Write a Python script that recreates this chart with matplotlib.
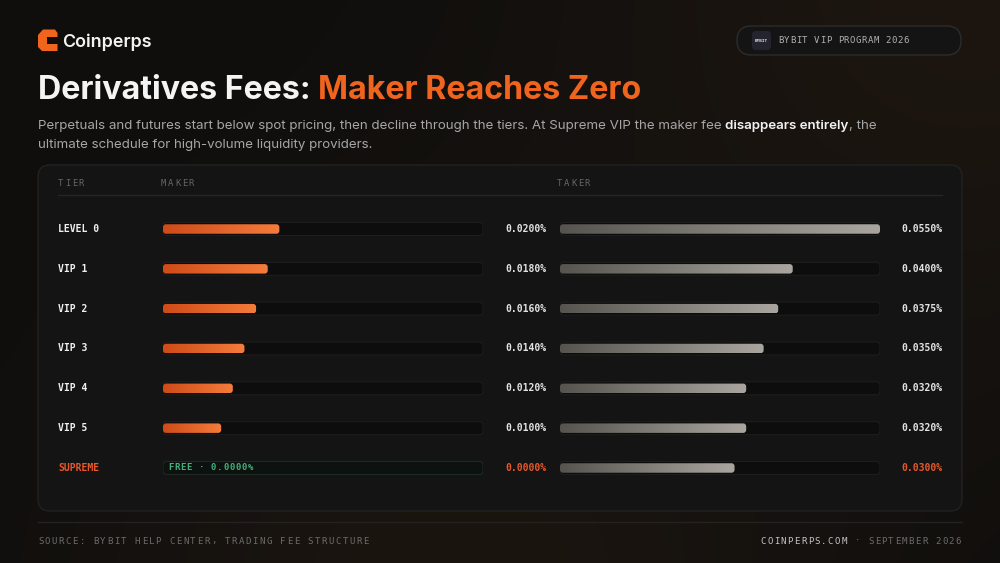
import numpy as np
import matplotlib.pyplot as plt
from matplotlib.patches import FancyBboxPatch, Polygon
from matplotlib.colors import LinearSegmentedColormap

# ---- data ----
tiers = ['LEVEL 0', 'VIP 1', 'VIP 2', 'VIP 3', 'VIP 4', 'VIP 5', 'SUPREME']
maker_fee = [0.0200, 0.0180, 0.0160, 0.0140, 0.0120, 0.0100, 0.0000]
taker_fee = [0.0550, 0.0400, 0.0375, 0.0350, 0.0320, 0.0320, 0.0300]
fee_max = 0.055
headers = ['TIER', 'MAKER', 'TAKER']

ORANGE = '#f0641e'
MONO = 'DejaVu Sans Mono'
SANS = ['Inter', 'DejaVu Sans']

W, H = 1000, 563
fig = plt.figure(figsize=(10, 5.63), dpi=100)
fig.patch.set_facecolor('#0f0e0d')

# background axes in pixel units
bg = fig.add_axes([0, 0, 1, 1])
yy, xx = np.mgrid[0:H, 0:W]
glow1 = np.exp(-((xx - 980) ** 2 + (yy + 40) ** 2) / (2 * 280 ** 2))
glow2 = np.exp(-((xx - 450) ** 2 + (yy - 620) ** 2) / (2 * 260 ** 2))
img = np.array([15, 14, 13])[None, None, :] + glow1[..., None] * np.array([14, 8, 3]) \
    + glow2[..., None] * np.array([12, 7, 3])
bg.imshow(img / 255.0, extent=(0, W, H, 0), zorder=0)
bg.set_xlim(0, W)
bg.set_ylim(H, 0)
bg.set_aspect('auto')
bg.axis('off')


def spaced(ax, x, y, s, size, colors, track, weight='normal', ha='left'):
    # monospace text with letter spacing
    adv = 0.602 * size * 100 / 72 + track
    total = adv * len(s) - track
    if ha == 'right':
        x -= total
    if isinstance(colors, str):
        colors = [colors] * len(s)
    for i, c in enumerate(s):
        ax.text(x + i * adv, y, c, fontsize=size, family=MONO, color=colors[i],
                weight=weight, ha='left', va='center', zorder=5)


renderer = fig.canvas.get_renderer()


def chain(x, y, parts, size):
    for s, col, wt in parts:
        t = bg.text(x, y, s, fontsize=size, family=SANS, color=col, weight=wt,
                    ha='left', va='baseline', zorder=5)
        x += t.get_window_extent(renderer).width


# logo
logo = Polygon([(38, 35), (43, 29.5), (55, 29.5), (57.5, 33), (57.5, 37), (47, 37),
                (47, 44), (57.5, 44), (57.5, 51), (42, 51), (38, 47)],
               closed=True, fc=ORANGE, ec='none', zorder=5)
bg.add_patch(logo)
bg.text(62, 47, 'Coinperps', fontsize=12.9, family=SANS, color='#f2f2f2',
        weight='semibold', va='baseline', zorder=5)

# badge
bg.add_patch(FancyBboxPatch((737, 26), 224, 29, boxstyle='round,pad=0,rounding_size=14.5',
                            fc='#141414', ec='#2c2c2c', lw=1, zorder=3))
bg.add_patch(FancyBboxPatch((752, 31), 19, 19, boxstyle='round,pad=0,rounding_size=4',
                            fc='#24242e', ec='none', zorder=4))
bg.text(761.5, 40.5, 'BYBIT', fontsize=3.2, family=MONO, color='#e0e0e0',
        weight='bold', ha='center', va='center', zorder=5)
spaced(bg, 778, 40.5, 'BYBIT VIP PROGRAM 2026', 6.5, '#b0b0b0', 0.55)

# title / subtitle
chain(38, 99, [('Derivatives Fees: ', '#f4f4f4', 'bold'),
               ('Maker Reaches Zero', ORANGE, 'bold')], 23.2)
chain(38, 129, [('Perpetuals and futures start below spot pricing, then decline through the tiers. '
                 'At Supreme VIP the maker fee ', '#a6a6a6', 'normal'),
                ('disappears entirely', '#f2f2f2', 'semibold'),
                (', the', '#a6a6a6', 'normal')], 9.6)
chain(38, 148, [('ultimate schedule for high-volume liquidity providers.', '#a6a6a6', 'normal')], 9.6)

# card
bg.add_patch(FancyBboxPatch((38, 165), 924, 346, boxstyle='round,pad=0,rounding_size=12',
                            fc='#141414', ec='#222222', lw=1, zorder=2))
spaced(bg, 58, 183.5, headers[0], 6.4, '#666666', 1.6)
spaced(bg, 161, 183.5, headers[1], 6.4, '#666666', 1.6)
spaced(bg, 557, 183.5, headers[2], 6.4, '#666666', 1.6)
bg.plot([58, 942], [194.5, 194.5], color='#262626', lw=1, zorder=3)

# rows
row_y0, row_step = 229, 39.83
n = len(tiers)
top_px = row_y0 - row_step / 2
bot_px = row_y0 + (n - 0.5) * row_step
track_w = 320
xpp = fee_max / track_w
ypp = 1 / row_step
aspect = ypp / xpp

maker_cmap = LinearSegmentedColormap.from_list('mk', ['#cf4b18', '#f47c3c'])
taker_cmap = LinearSegmentedColormap.from_list('tk', ['#56544f', '#aaa69f'])
grad = np.linspace(0, 1, 256)[None, :]


def bar_axes(x0):
    ax = fig.add_axes([x0 / W, 1 - bot_px / H, track_w / W, (bot_px - top_px) / H])
    ax.axis('off')
    ax.patch.set_alpha(0)
    return ax


def rbox(ax, x, y, w, h_px, r_px, **kw):
    hh = h_px * ypp
    p = FancyBboxPatch((x, y - hh / 2), w, hh,
                       boxstyle=f'round,pad=0,rounding_size={r_px * xpp}',
                       mutation_aspect=aspect, **kw)
    ax.add_patch(p)
    return p


def draw_bars(ax, values, cmap, free_row=None):
    for i, v in enumerate(values):
        if i == free_row:
            rbox(ax, 0, i, fee_max, 13, 4, fc='#0d110f', ec='#1c2a22', lw=0.8, zorder=2)
            continue
        rbox(ax, 0, i, fee_max, 13, 4, fc='#0d0d0d', ec='#1d1d1d', lw=0.8, zorder=2)
        if v > 0:
            p = rbox(ax, 0, i, v, 9.5, 3, fc='none', ec='none', zorder=3)
            hh = 9.5 * ypp
            ax.imshow(grad, cmap=cmap, extent=(0, v, i + hh / 2, i - hh / 2),
                      aspect='auto', zorder=3, clip_path=p, interpolation='bilinear')
    ax.set_xlim(0, fee_max)
    ax.set_ylim(n - 0.5, -0.5)
    ax.set_aspect('auto')


free_idx = maker_fee.index(0.0)
ax_m = bar_axes(163)
draw_bars(ax_m, maker_fee, maker_cmap, free_row=free_idx)
ax_t = bar_axes(560)
draw_bars(ax_t, taker_fee, taker_cmap)

# overlay axes for text sitting on top of the bar tracks
fg = fig.add_axes([0, 0, 1, 1])
fg.set_xlim(0, W)
fg.set_ylim(H, 0)
fg.axis('off')
fg.patch.set_alpha(0)

for i, tier in enumerate(tiers):
    y = row_y0 + i * row_step
    special = tier == 'SUPREME'
    lab_col = '#e8572a' if special else '#f0f0f0'
    val_col = '#e8572a' if special else '#e2e2e2'
    fg.text(58, y, tier, fontsize=7, family=MONO, weight='bold', color=lab_col,
            va='center', zorder=5)
    fg.text(546, y, f'{maker_fee[i]:.4f}%', fontsize=7, family=MONO, weight='bold',
            color=val_col, ha='right', va='center', zorder=5)
    fg.text(942, y, f'{taker_fee[i]:.4f}%', fontsize=7, family=MONO, weight='bold',
            color=val_col, ha='right', va='center', zorder=5)
    if special:
        spaced(fg, 168, y, f'FREE · {maker_fee[i]:.4f}%', 6.5, '#45b07c', 0.7, weight='bold')

# footer
bg.plot([38, 962], [522, 522], color='#222222', lw=1, zorder=3)
spaced(bg, 38, 541, 'SOURCE: BYBIT HELP CENTER, TRADING FEE STRUCTURE', 6.6, '#6b6b6b', 1.4)
right = 'COINPERPS.COM · SEPTEMBER 2026'
cols = ['#c4c4c4'] * 13 + ['#6b6b6b'] * (len(right) - 13)
spaced(bg, 961, 541, right, 6.6, cols, 1.2, ha='right')

fig.savefig('out.png', dpi=100, facecolor=fig.get_facecolor())
